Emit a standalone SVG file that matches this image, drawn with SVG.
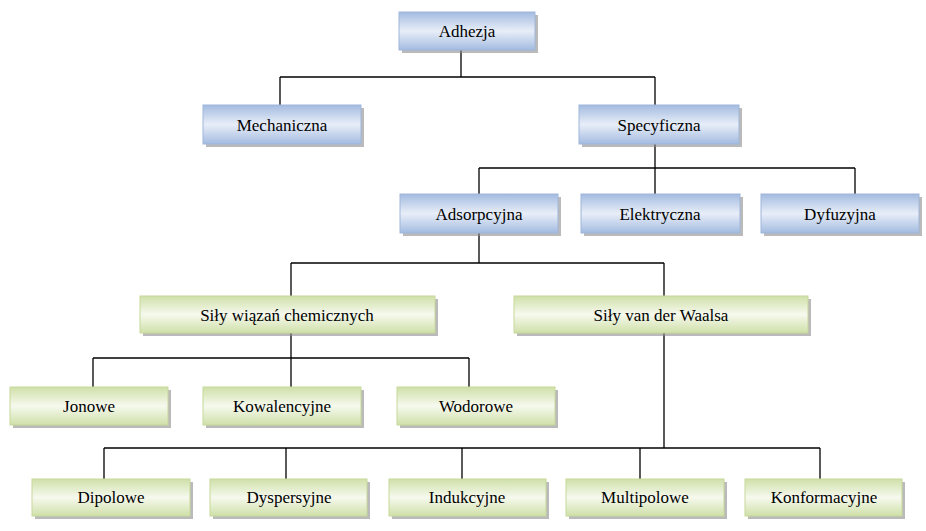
<svg xmlns="http://www.w3.org/2000/svg" width="926" height="531" viewBox="0 0 926 531">
<defs>
<linearGradient id="gb" x1="0" y1="0" x2="0" y2="1"><stop offset="0" stop-color="#a3bbe0"/><stop offset="0.5" stop-color="#e8eef8"/><stop offset="1" stop-color="#a3bbe0"/></linearGradient>
<linearGradient id="gg" x1="0" y1="0" x2="0" y2="1"><stop offset="0" stop-color="#cfe0a8"/><stop offset="0.5" stop-color="#f6f9ee"/><stop offset="1" stop-color="#cfe0a8"/></linearGradient>
</defs>
<style>
.b{fill:url(#gb);stroke:#9fb6da;stroke-width:1}
.g{fill:url(#gg);stroke:#c6d99a;stroke-width:1}
.s{fill:#8c8c8c;opacity:0.6}
text{font-family:"Liberation Serif",serif;font-size:17px;fill:#000;text-anchor:middle;dominant-baseline:central}
.c line{stroke:#000;stroke-width:1.3}
</style>
<rect width="926" height="531" fill="#fff"/>
<g class="c">
<line x1="461" y1="50" x2="461" y2="77"/><line x1="280" y1="77" x2="655" y2="77"/><line x1="280" y1="77" x2="280" y2="105"/><line x1="655" y1="77" x2="655" y2="105"/>
<line x1="655" y1="144" x2="655" y2="168"/><line x1="479" y1="168" x2="855" y2="168"/><line x1="479" y1="168" x2="479" y2="194"/><line x1="655" y1="168" x2="655" y2="194"/><line x1="855" y1="168" x2="855" y2="194"/>
<line x1="479" y1="233" x2="479" y2="263"/><line x1="291" y1="263" x2="664" y2="263"/><line x1="291" y1="263" x2="291" y2="296"/><line x1="664" y1="263" x2="664" y2="296"/>
<line x1="291" y1="333" x2="291" y2="358"/><line x1="93" y1="358" x2="469" y2="358"/><line x1="93" y1="358" x2="93" y2="387"/><line x1="291" y1="358" x2="291" y2="387"/><line x1="469" y1="358" x2="469" y2="387"/>
<line x1="664" y1="333" x2="664" y2="448"/><line x1="104" y1="448" x2="820" y2="448"/><line x1="104" y1="448" x2="104" y2="479"/><line x1="286" y1="448" x2="286" y2="479"/><line x1="462" y1="448" x2="462" y2="479"/><line x1="640" y1="448" x2="640" y2="479"/><line x1="820" y1="448" x2="820" y2="479"/>
</g>
<g id="n1"><rect class="s" x="402" y="15" width="136" height="38"/><rect class="b" x="399" y="12" width="136" height="38"/><text x="467" y="31">Adhezja</text></g>
<g id="n2"><rect class="s" x="206" y="108" width="158" height="39"/><rect class="b" x="203" y="105" width="158" height="39"/><text x="282" y="125">Mechaniczna</text></g>
<g id="n3"><rect class="s" x="582" y="108" width="160" height="39"/><rect class="b" x="579" y="105" width="160" height="39"/><text x="659" y="125">Specyficzna</text></g>
<g id="n4"><rect class="s" x="403" y="197" width="158" height="39"/><rect class="b" x="400" y="194" width="158" height="39"/><text x="479" y="214">Adsorpcyjna</text></g>
<g id="n5"><rect class="s" x="584" y="197" width="159" height="39"/><rect class="b" x="581" y="194" width="159" height="39"/><text x="660" y="214">Elektryczna</text></g>
<g id="n6"><rect class="s" x="764" y="197" width="158" height="39"/><rect class="b" x="761" y="194" width="158" height="39"/><text x="840" y="214">Dyfuzyjna</text></g>
<g id="n7"><rect class="s" x="143" y="299" width="295" height="37"/><rect class="g" x="140" y="296" width="295" height="37"/><text x="287" y="315">Siły wiązań chemicznych</text></g>
<g id="n8"><rect class="s" x="517" y="299" width="294" height="37"/><rect class="g" x="514" y="296" width="294" height="37"/><text x="661" y="315">Siły van der Waalsa</text></g>
<g id="n9"><rect class="s" x="13" y="390" width="158" height="38"/><rect class="g" x="10" y="387" width="158" height="38"/><text x="89" y="406">Jonowe</text></g>
<g id="n10"><rect class="s" x="206" y="390" width="158" height="38"/><rect class="g" x="203" y="387" width="158" height="38"/><text x="282" y="406">Kowalencyjne</text></g>
<g id="n11"><rect class="s" x="400" y="390" width="158" height="38"/><rect class="g" x="397" y="387" width="158" height="38"/><text x="476" y="406">Wodorowe</text></g>
<g id="n12"><rect class="s" x="35" y="482" width="158" height="37"/><rect class="g" x="32" y="479" width="158" height="37"/><text x="111" y="497">Dipolowe</text></g>
<g id="n13"><rect class="s" x="213" y="482" width="157" height="37"/><rect class="g" x="210" y="479" width="157" height="37"/><text x="289" y="497">Dyspersyjne</text></g>
<g id="n14"><rect class="s" x="392" y="482" width="157" height="37"/><rect class="g" x="389" y="479" width="157" height="37"/><text x="467" y="497">Indukcyjne</text></g>
<g id="n15"><rect class="s" x="569" y="482" width="158" height="37"/><rect class="g" x="566" y="479" width="158" height="37"/><text x="645" y="497">Multipolowe</text></g>
<g id="n16"><rect class="s" x="748" y="482" width="157" height="37"/><rect class="g" x="745" y="479" width="157" height="37"/><text x="824" y="497">Konformacyjne</text></g>
</svg>
